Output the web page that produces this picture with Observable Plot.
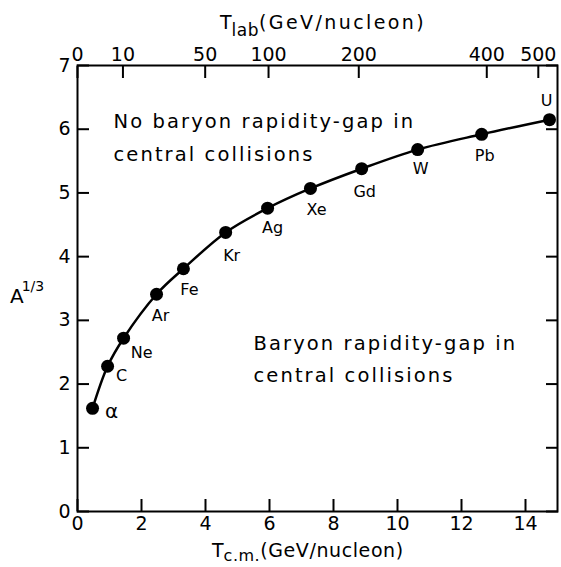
<!DOCTYPE html>
<html><head><meta charset="utf-8">
<script src="https://cdn.jsdelivr.net/npm/d3@7"></script>
<script src="https://cdn.jsdelivr.net/npm/@observablehq/plot@0.6"></script>
<style>
body{margin:0;background:#fff;}
#chart svg{display:block;}
</style></head><body><div id="chart"></div>
<script>
// ---- data ----
const elements = ["α","C","Ne","Ar","Fe","Kr","Ag","Xe","Gd","W","Pb","U"];
const tcm = [0.47,0.94,1.44,2.47,3.31,4.63,5.94,7.28,8.88,10.63,12.63,14.75];
const a13 = [1.62,2.28,2.72,3.41,3.81,4.38,4.76,5.07,5.38,5.68,5.92,6.15];
const xTicks = [0,2,4,6,8,10,12,14];
const yTicks = [0,1,2,3,4,5,6,7];
const tlabLabels = ["0","10","50","100","200","400","500"];
const tlabPos = [0,1.42,3.99,5.97,8.79,12.79,14.40];
const annotations = ["No baryon rapidity-gap in\ncentral collisions", "Baryon rapidity-gap in\ncentral collisions"];

// ---- layout (label offsets in px, font sizes) ----
const labelOffset = {
  "α":[19,3], "C":[14,10], "Ne":[18,15], "Ar":[4,22], "Fe":[6,21], "Kr":[6,23],
  "Ag":[5,20], "Xe":[6,21], "Gd":[3,23], "W":[3,19], "Pb":[3,22], "U":[-3,-19]
};
const labelSize = {"α":20};

const pts = elements.map((e,i)=>({el:e, x:tcm[i], y:a13[i]}));
const topMap = new Map(tlabPos.map((p,i)=>[p, tlabLabels[i]]));
const FONT = "DejaVu Sans";
const TS = 12;

const labelMarks = pts.map(p => Plot.text([p], {
  x:"x", y:"y", text:"el", dx:labelOffset[p.el][0], dy:labelOffset[p.el][1],
  fontSize:labelSize[p.el] || 16, fill:"black"
}));

const plot = Plot.plot({
  width:561, height:567,
  marginLeft:77, marginRight:4, marginTop:65, marginBottom:56,
  style:{fontFamily:FONT, color:"black", background:"white", overflow:"visible"},
  x:{domain:[0,15]},
  y:{domain:[0,7]},
  marks:[
    Plot.axisX(xTicks, {anchor:"bottom", tickSize:-TS, tickPadding:TS+5, fontSize:19, strokeWidth:2, label:null, tickFormat:d=>String(d)}),
    Plot.axisX(tlabPos, {anchor:"top", tickSize:-TS, tickPadding:TS+5, fontSize:19, strokeWidth:2, label:null, tickFormat:d=>topMap.get(d)}),
    Plot.axisY(yTicks, {anchor:"left", tickSize:-TS, tickPadding:TS+7, fontSize:19, strokeWidth:2, label:null, tickFormat:d=>String(d)}),
    Plot.axisY(yTicks, {anchor:"right", tickSize:-TS, tickPadding:0, strokeWidth:2, label:null, tickFormat:()=>""}),
    Plot.frame({stroke:"black", strokeWidth:2}),
    Plot.line(pts, {x:"x", y:"y", curve:"catmull-rom", stroke:"black", strokeWidth:2.5}),
    Plot.dot(pts, {x:"x", y:"y", r:6.5, fill:"black", stroke:null}),
    ...labelMarks,
    Plot.text([annotations[0]], {frameAnchor:"top-left", dx:36, dy:40, textAnchor:"start", lineAnchor:"top", lineHeight:1.66, fontSize:19.5, fill:"black"}),
    Plot.text([annotations[1]], {frameAnchor:"top-left", dx:176, dy:262, textAnchor:"start", lineAnchor:"top", lineHeight:1.62, fontSize:19.5, fill:"black"})
  ]
});
document.getElementById("chart").appendChild(plot);

const svg = d3.select(plot);
svg.selectAll('g[font-size="19.5"] text').style("letter-spacing","2.1px");

// titles with sub/superscripts
function addTitle(x, y, parts) {
  const t = svg.append("text").attr("x", x).attr("y", y)
    .attr("font-family", FONT).attr("fill","black").attr("text-anchor","start");
  parts.forEach(p => {
    const s = t.append("tspan").text(p.t).attr("font-size", p.fs);
    if (p.dy) s.attr("dy", p.dy);
    if (p.dx) s.attr("dx", p.dx);
    if (p.ls) s.style("letter-spacing", p.ls);
  });
  return t;
}
addTitle(220, 29, [
  {t:"T", fs:19},
  {t:"lab", fs:17, dy:7, ls:"0.5px"},
  {t:"(GeV/nucleon)", fs:19, dy:-7, ls:"2.4px"}
]);
addTitle(212, 557, [
  {t:"T", fs:19},
  {t:"c.m.", fs:16, dy:4, ls:"0.5px"},
  {t:"(GeV/nucleon)", fs:19, dy:-4, ls:"0.6px"}
]);
addTitle(10, 303, [
  {t:"A", fs:20},
  {t:"1/3", fs:14, dy:-12, dx:-2}
]);
</script></body></html>
